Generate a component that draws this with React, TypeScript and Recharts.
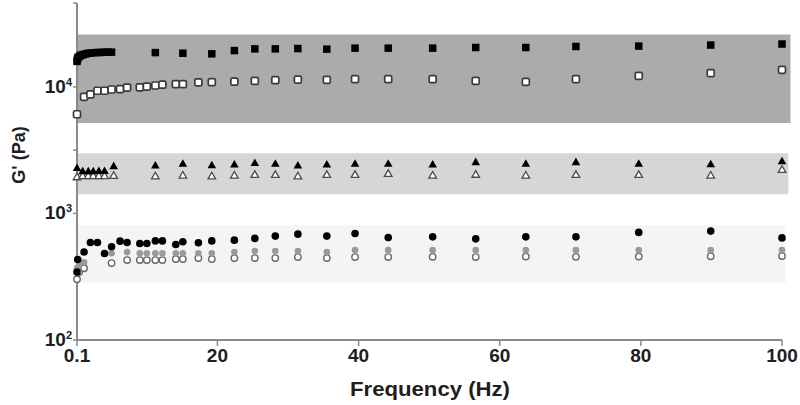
import { ScatterChart, Scatter, XAxis, YAxis, ReferenceArea } from 'recharts'

// frequencies (Hz) and G' (Pa), one pair of arrays per series
const freqSqFilled = [0.1, 0.15, 0.2, 0.3, 0.5, 0.7, 1.0, 1.3, 1.6, 2.0, 2.5, 3.0, 3.5, 4.0, 4.5, 5.0, 11.2, 15.1, 19.2, 22.4, 25.3, 28.2, 31.4, 35.5, 39.5, 44.2, 50.5, 56.6, 63.7, 70.8, 79.7, 89.9, 100]
const gSqFilled = [15900, 16400, 16900, 17200, 17500, 17800, 18000, 18200, 18400, 18500, 18600, 18700, 18700, 18800, 18800, 18800, 18660, 18450, 18240, 19360, 19970, 19970, 20090, 19860, 20230, 20230, 20230, 20470, 20470, 20850, 21000, 21400, 21800]

const freqSqOpen = [0.1, 1.1, 2.0, 3.0, 4.0, 5.0, 6.2, 7.2, 9.0, 10.0, 11.2, 12.2, 14.1, 15.1, 17.3, 19.2, 22.4, 25.3, 28.2, 31.4, 35.5, 39.5, 44.2, 50.5, 56.6, 63.7, 70.8, 79.7, 89.9, 100]
const gSqOpen = [6080, 8340, 8720, 9320, 9320, 9530, 9590, 9870, 9920, 10050, 10250, 10400, 10500, 10500, 10850, 10900, 11000, 11150, 11300, 11420, 11360, 11500, 11500, 11500, 11150, 10950, 11500, 12200, 12830, 13630]

const freqTri = [0.1, 0.9, 1.7, 2.4, 3.2, 4.0, 5.3, 11.2, 15.1, 19.2, 22.4, 25.3, 28.2, 31.4, 35.5, 39.5, 44.2, 50.5, 56.6, 63.7, 70.8, 79.7, 89.9, 100]
const gTriFilled = [2300, 2170, 2170, 2170, 2180, 2180, 2380, 2410, 2485, 2420, 2450, 2520, 2485, 2410, 2450, 2485, 2485, 2450, 2560, 2485, 2560, 2485, 2460, 2600]
const gTriOpen = [1950, 1990, 1990, 1990, 1990, 1990, 2000, 1980, 2010, 1980, 2010, 2034, 2034, 1980, 2034, 2034, 2070, 2010, 2040, 2010, 2034, 2034, 2010, 2230]

const freqCircBlack = [0.1, 0.2, 1.1, 2.0, 3.0, 4.0, 5.0, 6.2, 7.2, 9.0, 10.0, 11.2, 12.2, 14.1, 15.1, 17.3, 19.2, 22.4, 25.3, 28.2, 31.4, 35.5, 39.5, 44.2, 50.5, 56.6, 63.7, 70.8, 79.7, 89.9, 100]
const gCircBlack = [345, 433, 496, 590, 590, 483, 545, 604, 590, 579, 579, 607, 607, 569, 597, 586, 607, 615, 635, 662, 686, 662, 695, 646, 653, 630, 653, 653, 708, 725, 641]

const freqCirc = [0.1, 0.4, 1.1, 5.0, 7.2, 9.0, 10.0, 11.2, 12.2, 14.1, 15.1, 17.3, 19.2, 22.4, 25.3, 28.2, 31.4, 35.5, 39.5, 44.2, 50.5, 56.6, 63.7, 70.8, 79.7, 89.9, 100]
const gCircGray = [369, 390, 412, 485, 495, 485, 485, 485, 485, 485, 485, 485, 485, 495, 505, 505, 505, 495, 513, 513, 513, 513, 513, 513, 513, 513, 513]
const gCircOpen = [302, 344, 369, 405, 428, 428, 428, 428, 428, 436, 436, 444, 436, 444, 444, 444, 452, 444, 452, 452, 454, 452, 456, 454, 456, 458, 460]

// shaded bands: [low, high] G' and right edge in Hz
const bandDark = [5180, 25900, 101.2]
const bandMid = [1415, 2990, 100.9]
const bandLight = [283, 803, 100.5]

const xTicks = [0.1, 20, 40, 60, 80, 100]
const yTicks = [100, 1000, 3162, 10000, 46000]
const yTickExp = ['2', '3', '', '4', '']

const toPoints = (xs: number[], ys: number[]) => xs.map((x, i) => ({ x, y: ys[i] }))

const FONT = '"Liberation Sans", Arial, sans-serif'
const AXIS = '#8a8a8a'

const filledSquare = ({ cx, cy }: any) => (
  <rect x={cx - 3.75} y={cy - 3.75} width={7.5} height={7.5} fill="#000" />
)
const openSquare = ({ cx, cy }: any) => (
  <rect x={cx - 3.5} y={cy - 3.5} width={7} height={7} rx={1.5} fill="#fff" stroke="#3a3a3a" strokeWidth={1.7} />
)
const filledTriangle = ({ cx, cy }: any) => (
  <polygon points={`${cx},${cy - 4.2} ${cx + 4.3},${cy + 3.4} ${cx - 4.3},${cy + 3.4}`} fill="#000" />
)
const openTriangle = ({ cx, cy }: any) => (
  <polygon points={`${cx},${cy - 3.6} ${cx + 3.8},${cy + 3} ${cx - 3.8},${cy + 3}`} fill="#fff" stroke="#4a4a4a" strokeWidth={1.3} />
)
const blackCircle = ({ cx, cy }: any) => <circle cx={cx} cy={cy} r={3.8} fill="#000" />
const grayCircle = ({ cx, cy }: any) => <circle cx={cx} cy={cy} r={3.3} fill="#9a9a9a" />
const openCircle = ({ cx, cy }: any) => (
  <circle cx={cx} cy={cy} r={3.2} fill="#fff" stroke="#666" strokeWidth={1.4} />
)

function XTick({ x, y, payload }: any) {
  return (
    <text x={x} y={y + 14} textAnchor="middle" fontFamily={FONT} fontWeight="bold" fontSize={19} fill="#1e1e1e">
      {payload.value}
    </text>
  )
}

function YTick({ x, y, index }: any) {
  const exp = yTickExp[index]
  if (!exp) return null
  return (
    <text x={x} y={y + 6} textAnchor="end" fontFamily={FONT} fontWeight="bold" fontSize={19} fill="#1e1e1e">
      10<tspan dy={-7} fontSize={11}>{exp}</tspan>
    </text>
  )
}

export default function App() {
  return (
    <div style={{ position: 'absolute', left: 0, top: 0, width: 800, height: 405, background: '#fff' }}>
      <ScatterChart width={800} height={405} margin={{ top: 3, right: 18, left: 0, bottom: 0 }}>
        <XAxis
          type="number"
          dataKey="x"
          domain={[0.1, 100]}
          ticks={xTicks}
          interval={0}
          height={65}
          tick={<XTick />}
          tickSize={6}
          axisLine={{ stroke: AXIS, strokeWidth: 2 }}
          tickLine={{ stroke: AXIS, strokeWidth: 1.5 }}
          label={{
            content: () => (
              <text x={430} y={396} textAnchor="middle" fontFamily={FONT} fontWeight="bold" fontSize={20} fill="#1e1e1e" textLength={160} lengthAdjust="spacingAndGlyphs">
                Frequency (Hz)
              </text>
            ),
          }}
        />
        <YAxis
          type="number"
          dataKey="y"
          scale="log"
          domain={[100, 46000]}
          ticks={yTicks}
          interval={0}
          width={77}
          tick={<YTick />}
          tickSize={4}
          tickMargin={1}
          axisLine={{ stroke: AXIS, strokeWidth: 2 }}
          tickLine={{ stroke: AXIS, strokeWidth: 1.5 }}
          label={{
            content: () => (
              <text x={25} y={155} transform="rotate(-90 25 155)" textAnchor="middle" fontFamily={FONT} fontWeight="bold" fontSize={18} fill="#1e1e1e">
                G' (Pa)
              </text>
            ),
          }}
        />
        <ReferenceArea x1={0.1} x2={bandDark[2]} y1={bandDark[0]} y2={bandDark[1]} fill="#ababab" fillOpacity={1} stroke="none" ifOverflow="visible" />
        <ReferenceArea x1={0.1} x2={bandMid[2]} y1={bandMid[0]} y2={bandMid[1]} fill="#d6d6d6" fillOpacity={1} stroke="none" ifOverflow="visible" />
        <ReferenceArea x1={0.1} x2={bandLight[2]} y1={bandLight[0]} y2={bandLight[1]} fill="#f4f4f4" fillOpacity={1} stroke="none" ifOverflow="visible" />
        <Scatter data={toPoints(freqSqOpen, gSqOpen)} shape={openSquare} isAnimationActive={false} />
        <Scatter data={toPoints(freqSqFilled, gSqFilled)} shape={filledSquare} isAnimationActive={false} />
        <Scatter data={toPoints(freqTri, gTriOpen)} shape={openTriangle} isAnimationActive={false} />
        <Scatter data={toPoints(freqTri, gTriFilled)} shape={filledTriangle} isAnimationActive={false} />
        <Scatter data={toPoints(freqCirc, gCircOpen)} shape={openCircle} isAnimationActive={false} />
        <Scatter data={toPoints(freqCirc, gCircGray)} shape={grayCircle} isAnimationActive={false} />
        <Scatter data={toPoints(freqCircBlack, gCircBlack)} shape={blackCircle} isAnimationActive={false} />
      </ScatterChart>
    </div>
  )
}
